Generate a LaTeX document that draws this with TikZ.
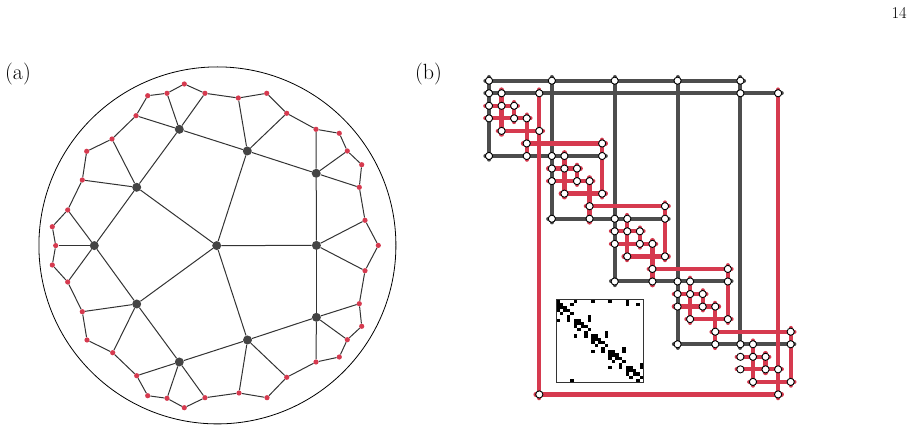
\documentclass[tikz,border=0pt]{standalone}
\usepackage{tikz}
\definecolor{myred}{HTML}{D63A4F}
\definecolor{mygray}{HTML}{4D4D4D}
\definecolor{darknode}{HTML}{444444}
\definecolor{edgecol}{HTML}{333333}
\begin{document}
\begin{tikzpicture}[x=1pt,y=-1pt,
  gedge/.style={draw=edgecol,line width=1pt},
  dnode/.style={circle,fill=darknode,inner sep=0pt,minimum size=9pt},
  rnode/.style={circle,fill=myred,inner sep=0pt,minimum size=5.2pt},
  grayline/.style={draw=mygray,line width=4pt,line cap=round,shorten <=-3.7pt,shorten >=-3.7pt},
  redline/.style={draw=myred,line width=4.3pt,line cap=round,shorten <=-3.7pt,shorten >=-3.7pt},
  bnode/.style={circle,draw=black,fill=white,line width=0.9pt,inner sep=0pt,minimum size=7.2pt},
  lab/.style={font=\fontsize{22}{26}\selectfont,anchor=base west,inner sep=0pt}
]
\useasboundingbox (0,0) rectangle (914,430);

% labels
\node[lab] (la) at (5,80) {(a)};
\node[lab] (lb) at (415,80) {(b)};
\node[font=\fontsize{16.5}{20}\selectfont,anchor=base east,inner sep=0pt] (pg) at (907,19) {14};

% ---------- panel (a)
\draw[line width=0.8pt] (217.4,245.4) circle[radius=178.5];

\node[dnode] (C) at (216.7,245.6) {};
\node[dnode] (D1) at (179.3,129.3) {};
\node[dnode] (D2) at (247.3,151.0) {};
\node[dnode] (D3) at (316.2,173.3) {};
\node[dnode] (D4) at (316.4,245.4) {};
\node[dnode] (D5) at (316.4,317.3) {};
\node[dnode] (D6) at (247.5,340.0) {};
\node[dnode] (D7) at (179.3,362.0) {};
\node[dnode] (D8) at (136.7,304.0) {};
\node[dnode] (D9) at (94.3,245.6) {};
\node[dnode] (D10) at (136.7,187.3) {};

\foreach \n/\x/\y in {
 r1/184.3/84.0, r2/167.0/93.3, r3/147.7/95.7, r4/205.0/93.3, r5/238.3/98.0,
 r6/266.7/93.3, r7/286.7/113.3, r8/316.0/129.3, r9/339.3/133.3, r10/347.3/151.0,
 r11/361.7/164.7, r12/359.3/187.3, r13/365.0/220.3, r14/378.3/245.4, r15/365.0/270.7,
 r16/359.3/303.7, r17/361.7/326.3, r18/347.3/339.7, r19/339.3/357.0, r20/316.0/362.0,
 r21/286.7/377.3, r22/267.0/397.7, r23/239.0/393.0, r24/205.0/397.7, r25/184.3/407.7,
 r26/167.0/398.3, r27/147.7/395.7, r28/136.7/375.7, r29/112.7/352.7, r30/87.0/340.0,
 r31/82.3/311.7, r32/67.7/282.0, r33/52.3/265.0, r34/55.7/245.6, r35/52.3/226.7,
 r36/67.7/210.0, r37/82.3/180.0, r38/86.7/151.3, r39/112.0/139.0, r40/136.0/115.7}
 {\node[rnode] (\n) at (\x,\y) {};}

% ring
\draw[gedge] (r1) -- (r2);
\draw[gedge] (r2) -- (r3);
\draw[gedge] (r3) -- (r40);
\draw[gedge] (r1) -- (r4);
\foreach \i in {4,...,39} {\pgfmathtruncatemacro\j{\i+1}\draw[gedge] (r\i) -- (r\j);}
% dark-dark
\foreach \a/\b in {C/D2,C/D4,C/D6,C/D8,C/D10,D1/D2,D2/D3,D3/D4,D4/D5,D5/D6,D6/D7,D7/D8,D8/D9,D9/D10,D10/D1}
 {\draw[gedge] (\a) -- (\b);}
% dark-red
\foreach \a/\b in {D1/r40,D1/r2,D1/r4,D2/r5,D2/r7,D3/r8,D3/r10,D3/r12,D4/r13,D4/r15,
 D5/r16,D5/r18,D5/r20,D6/r23,D6/r21,D7/r28,D7/r26,D7/r24,D8/r31,D8/r29,
 D9/r36,D9/r34,D9/r32,D10/r39,D10/r37}
 {\draw[gedge] (\a) -- (\b);}

% ---------- panel (b)
\def\bnodes{0/0,0/5,0/10,0/15,0/20,1/0,1/1,1/4,1/20,1/23,
2/0,2/1,2/2,3/0,3/2,3/3,4/1,4/4,5/3,5/9,6/0,6/3,6/5,6/6,6/9,
7/5,7/6,7/7,8/5,8/7,8/8,9/6,9/9,10/8,10/14,11/5,11/8,11/10,11/11,11/14,
12/10,12/11,12/12,13/10,13/12,13/13,14/11,14/14,15/13,15/19,16/10,16/13,16/15,16/16,16/19,
17/15,17/16,17/17,18/15,18/17,18/18,19/16,19/19,20/18,20/24,21/15,21/18,21/20,21/21,21/24,
22/20,22/21,22/22,23/20,23/22,23/23,24/21,24/24,25/4,25/23}

\begin{scope}[shift={(489,80.7)},x=12.57pt,y=-12.55pt]
 % gray lines
 \draw[grayline] (0,0) -- (20,0);
 \draw[grayline] (0,1) -- (23,1);
 \foreach \o in {0,5,10,15} {
   \draw[grayline] (\o,0) -- (\o,6+\o);
   \draw[grayline] (\o,6+\o) -- (\o+9,6+\o);
 }
 \draw[grayline] (20,0) -- (20,21);
 % red lines
 \foreach \o in {0,5,10,15,20} {
   \draw[redline] (\o+1,1+\o) -- (\o+1,4+\o);
   \draw[redline] (\o,2+\o) -- (\o+2,2+\o);
   \draw[redline] (\o+2,2+\o) -- (\o+2,3+\o);
   \draw[redline] (\o,3+\o) -- (\o+3,3+\o);
   \draw[redline] (\o+1,4+\o) -- (\o+4,4+\o);
 }
 \foreach \o in {5,10,15,20} {
   \draw[redline] (\o+4,\o) -- (\o+4,4+\o);
 }
 \foreach \o in {0,5,10,15} {
   \draw[redline] (\o+3,3+\o) -- (\o+3,6+\o);
   \draw[redline] (\o+3,5+\o) -- (\o+9,5+\o);
 }
 \draw[redline] (4,1) -- (4,25);
 \draw[redline] (23,1) -- (23,25);
 \draw[redline] (4,25) -- (23,25);
 % nodes
 \foreach \r/\c in \bnodes {\node[bnode] (b\r-\c) at (\c,\r) {};}
\end{scope}

% spy plot inset
\foreach \r/\c in \bnodes {\fill[black] ({556.5+3.46*\c},{299.5+3.173*\r}) rectangle ++(3.46,3.173);}
\draw[line width=0.8pt,draw=edgecol] (556.5,299.5) rectangle (643,382);
\end{tikzpicture}
\end{document}
